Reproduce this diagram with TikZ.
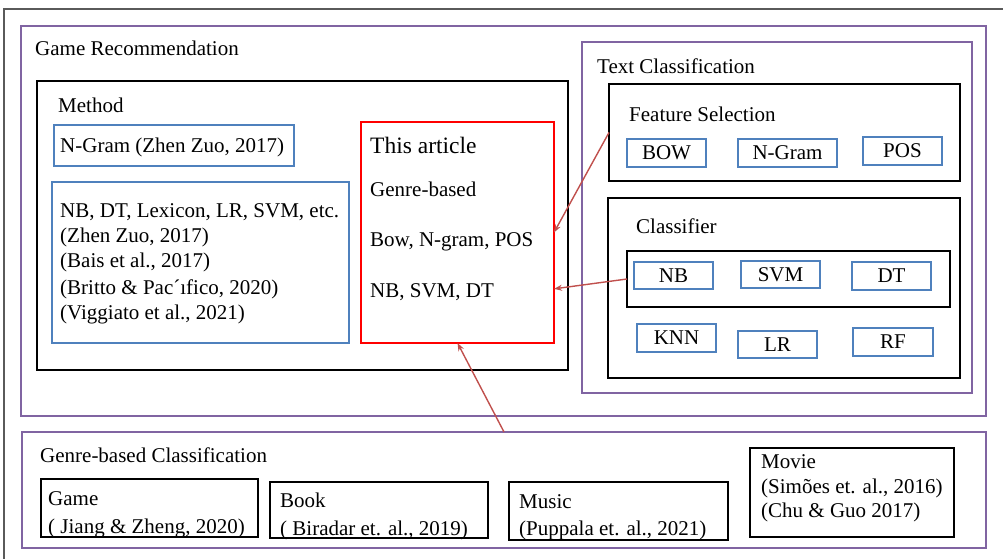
\documentclass[tikz,border=0pt]{standalone}
\usepackage{fontspec}
\setmainfont{Liberation Serif}
\usetikzlibrary{arrows.meta,calc}
\definecolor{purp}{HTML}{8064A2}
\definecolor{blu}{HTML}{4F81BD}
\definecolor{arr}{HTML}{C0504D}
\definecolor{frm}{HTML}{5A5A5A}
\newcommand\txt{\fontsize{21bp}{25bp}\selectfont}
\newcommand\bigtxt{\fontsize{23.5bp}{28bp}\selectfont}
\tikzset{
  box/.style={anchor=north west, inner sep=0pt, outer sep=0pt},
  pbox/.style={box, draw=purp, line width=2.6bp},
  kbox/.style={box, draw=black, line width=2.6bp},
  bbox/.style={box, draw=blu, line width=2.4bp, font=\txt},
  rbox/.style={box, draw=red, line width=2.4bp},
  lbl/.style={anchor=base west, inner sep=0pt, font=\txt},
  link/.style={draw=arr, line width=1.4bp, -{Stealth[length=8bp,width=6bp]}},
}
\begin{document}
\begin{tikzpicture}[x=1bp,y=-1bp]
\useasboundingbox (0,0) rectangle (1003,559);
\clip (0,0) rectangle (1003,559);
% outer frame, running off the right and bottom edges
\draw[frm, line width=2bp] (4,9) rectangle (1020,580);

% ---- Game Recommendation ----
\node[pbox, minimum width=965bp, minimum height=390bp] (gr) at (21,26) {};
\node[lbl] (grt) at (35,56) {Game Recommendation};

\node[kbox, minimum width=531bp, minimum height=289bp] (meth) at (37,81) {};
\node[lbl] (metht) at (58,113) {Method};

\node[bbox, minimum width=240bp, minimum height=41bp] (ngz) at (54,125) {};
\node[lbl] (ngzt) at (60,153) {N-Gram (Zhen Zuo, 2017)};

\node[bbox, minimum width=297bp, minimum height=161bp] (lit) at (52,182) {};
\node[lbl] (lit1) at (60,218) {NB, DT, Lexicon, LR, SVM, etc.};
\node[lbl] (lit2) at (60,243) {(Zhen Zuo, 2017)};
\node[lbl] (lit3) at (60,268) {(Bais et al., 2017)};
\node[lbl] (lit4) at (60,295) {(Britto \& Pac´ıfico, 2020)};
\node[lbl] (lit5) at (60,320) {(Viggiato et al., 2021)};

\node[rbox, minimum width=193bp, minimum height=221bp] (art) at (361,122) {};
\node[lbl, font=\bigtxt] (art1) at (370,154) {This article};
\node[lbl] (art2) at (370,197) {Genre-based};
\node[lbl] (art3) at (370,247) {Bow, N-gram, POS};
\node[lbl] (art4) at (370,298) {NB, SVM, DT};

% ---- Text Classification ----
\node[pbox, minimum width=390bp, minimum height=351bp] (tc) at (582,42) {};
\node[lbl] (tct) at (597,74) {Text Classification};

\node[kbox, minimum width=351bp, minimum height=97bp] (fs) at (609,84) {};
\node[lbl] (fst) at (629,122) {Feature Selection};
\node[bbox, minimum width=79bp, minimum height=28bp] (bow) at (627,139) {BOW};
\node[bbox, minimum width=99bp, minimum height=28bp] (ngr) at (738,139) {N-Gram};
\node[bbox, minimum width=79bp, minimum height=28bp] (pos) at (863,137) {POS};

\node[kbox, minimum width=352bp, minimum height=180bp] (cls) at (608,198) {};
\node[lbl] (clst) at (636,234) {Classifier};
\node[kbox, minimum width=323bp, minimum height=56bp] (clsin) at (627,251) {};
\node[bbox, minimum width=79bp, minimum height=27bp] (nb) at (634,262) {NB};
\node[bbox, minimum width=79bp, minimum height=27bp] (svm) at (741,261) {SVM};
\node[bbox, minimum width=79bp, minimum height=28bp] (dt) at (852,262) {DT};
\node[bbox, minimum width=79bp, minimum height=28bp] (knn) at (637,324) {KNN};
\node[bbox, minimum width=79bp, minimum height=27bp] (lr) at (738,331) {LR};
\node[bbox, minimum width=80bp, minimum height=28bp] (rf) at (853,328) {RF};

% ---- Genre-based Classification ----
\node[pbox, minimum width=964bp, minimum height=116bp] (gbc) at (22,432) {};
\node[lbl] (gbct) at (40,462) {Genre-based Classification};

\node[kbox, minimum width=217bp, minimum height=58bp] (game) at (41,479) {};
\node[lbl] (game1) at (48,505) {Game};
\node[lbl] (game2) at (48,533) {( Jiang \& Zheng, 2020)};

\node[kbox, minimum width=218bp, minimum height=56bp] (book) at (270,482) {};
\node[lbl] (book1) at (280,507) {Book};
\node[lbl] (book2) at (280,535) {( Biradar et. al., 2019)};

\node[kbox, minimum width=219bp, minimum height=58bp] (music) at (509,482) {};
\node[lbl] (music1) at (519,508) {Music};
\node[lbl] (music2) at (519,535) {(Puppala et. al., 2021)};

\node[kbox, minimum width=204bp, minimum height=89bp] (movie) at (750,448) {};
\node[lbl] (movie1) at (761,468) {Movie};
\node[lbl] (movie2) at (761,493) {(Simões et. al., 2016)};
\node[lbl] (movie3) at (761,517) {(Chu \& Guo 2017)};

% ---- links into this article ----
\draw[link] (fs.west) -- (art.east);
\draw[link] (clsin.west) -- ($(art.north east)!0.755!(art.south east)$);
\draw[link] (gbc.north) -- (art.south);
\end{tikzpicture}
\end{document}
